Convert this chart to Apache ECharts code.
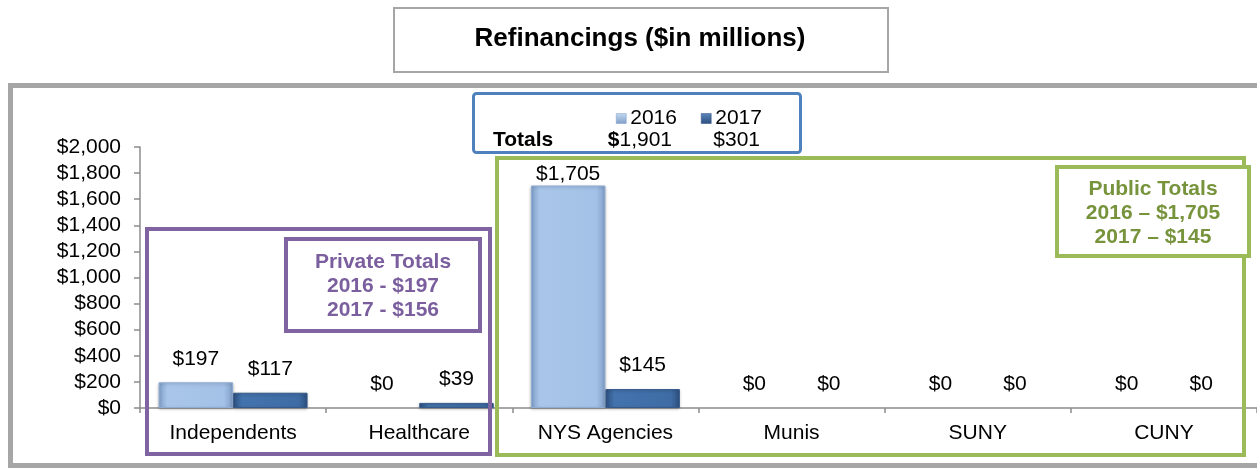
<!DOCTYPE html>
<html>
<head>
<meta charset="utf-8">
<script src="https://cdn.jsdelivr.net/npm/echarts@6/dist/echarts.min.js"></script>
<style>
html,body{margin:0;padding:0;background:#fff;}
#c{width:1257px;height:468px;}
</style>
</head>
<body>
<div id="c"></div>
<script>
const titleText = 'Refinancings ($in millions)';
const categories = ['Independents', 'Healthcare', 'NYS Agencies', 'Munis', 'SUNY', 'CUNY'];
const seriesNames = ['2016', '2017'];
const values2016 = [197, 0, 1705, 0, 0, 0];
const values2017 = [117, 39, 145, 0, 0, 0];
const totalsLabel = 'Totals';
const totals = ['1,901', '$301'];
const privateLines = ['Private Totals', '2016 - $197', '2017 - $156'];
const publicLines = ['Public Totals', '2016 \u2013 $1,705', '2017 \u2013 $145'];
const yMin = 0, yMax = 2000, yInterval = 200;

const FONT = '"Liberation Sans", Arial, sans-serif';
const money = v => '$' + Number(v).toLocaleString('en-US');

const grad2016 = new echarts.graphic.LinearGradient(0, 0, 1, 0, [
  {offset: 0, color: '#7f9fc8'},
  {offset: 0.12, color: '#a9c6ea'},
  {offset: 0.88, color: '#a3c0e6'},
  {offset: 1, color: '#7f9fc8'}
]);
const grad2017 = new echarts.graphic.LinearGradient(0, 0, 1, 0, [
  {offset: 0, color: '#2c4f7e'},
  {offset: 0.12, color: '#4373ad'},
  {offset: 0.88, color: '#3f6ca5'},
  {offset: 1, color: '#2c4f7e'}
]);
const legendIcon2016 = new echarts.graphic.LinearGradient(0, 0, 0, 1, [
  {offset: 0, color: '#c5d9f1'}, {offset: 1, color: '#7f9fc8'}
]);
const legendIcon2017 = new echarts.graphic.LinearGradient(0, 0, 0, 1, [
  {offset: 0, color: '#5b86bd'}, {offset: 1, color: '#2c4f7e'}
]);

function mk(vals) {
  return vals.map(v => {
    const item = {value: v, label: {distance: v > 1000 ? 1 : 13}};
    if (v === 0) item.itemStyle = {color: 'transparent', borderWidth: 0, shadowBlur: 0, shadowOffsetY: 0};
    return item;
  });
}

const chart = echarts.init(document.getElementById('c'), null, {renderer: 'canvas'});

function textLines(lines, cx, ys, color) {
  return lines.map((t, i) => ({
    type: 'text', z: 120, x: cx, y: ys[i],
    style: {text: t, fill: color, font: 'bold 21px ' + FONT, textAlign: 'center', textVerticalAlign: 'middle'}
  }));
}

const option = {
  animation: false,
  backgroundColor: '#ffffff',
  textStyle: {fontFamily: FONT},
  legend: {
    left: 611, top: 103,
    itemWidth: 10, itemHeight: 10, itemGap: 24,
    icon: 'rect',
    textStyle: {fontSize: 21, color: '#000', fontFamily: FONT, padding: [0, 0, 0, -1]},
    data: [
      {name: seriesNames[0], itemStyle: {color: legendIcon2016, borderColor: '#7f9fc8', borderWidth: 0.5}},
      {name: seriesNames[1], itemStyle: {color: legendIcon2017, borderColor: '#2c4f7e', borderWidth: 0.5}}
    ]
  },
  grid: {left: 140, right: 0, top: 147, bottom: 60, containLabel: false},
  xAxis: {
    type: 'category',
    data: categories,
    axisLine: {lineStyle: {color: '#8c8c8c', width: 1.5}},
    axisTick: {show: true, length: 5, lineStyle: {color: '#8c8c8c', width: 1.5}},
    axisLabel: {fontSize: 21, color: '#000', margin: 15, fontFamily: FONT}
  },
  yAxis: {
    type: 'value',
    min: yMin, max: yMax, interval: yInterval,
    axisLine: {show: true, lineStyle: {color: '#8c8c8c', width: 1.5}},
    axisTick: {show: true, length: 6, lineStyle: {color: '#8c8c8c', width: 1.5}},
    splitLine: {show: false},
    axisLabel: {fontSize: 21, color: '#000', margin: 19, fontFamily: FONT, formatter: v => money(v)}
  },
  series: [
    {
      name: seriesNames[0], type: 'bar', data: mk(values2016),
      barGap: '0%', barCategoryGap: '20%',
      itemStyle: {color: grad2016, borderColor: '#8eacd3', borderWidth: 1,
        shadowColor: 'rgba(0,0,0,0.25)', shadowBlur: 3, shadowOffsetY: 1},
      label: {show: true, position: 'top', fontSize: 21, color: '#000', fontFamily: FONT,
        formatter: p => money(p.value)}
    },
    {
      name: seriesNames[1], type: 'bar', data: mk(values2017),
      barGap: '0%', barCategoryGap: '20%',
      itemStyle: {color: grad2017, borderColor: '#35598a', borderWidth: 1,
        shadowColor: 'rgba(0,0,0,0.25)', shadowBlur: 3, shadowOffsetY: 1},
      label: {show: true, position: 'top', fontSize: 21, color: '#000', fontFamily: FONT,
        formatter: p => money(p.value)}
    }
  ],
  graphic: {
    elements: [
      {type: 'rect', z: 100, shape: {x: 394, y: 8, width: 494, height: 64},
        style: {fill: '#fff', stroke: '#a6a6a6', lineWidth: 2}},
      {type: 'text', z: 101, x: 640, y: 39,
        style: {text: titleText, font: 'bold 26px ' + FONT, fill: '#000', textAlign: 'center', textVerticalAlign: 'middle'}},
      {type: 'rect', z: 90, shape: {x: 10.5, y: 85.5, width: 1262, height: 380},
        style: {fill: 'none', stroke: '#a6a6a6', lineWidth: 5}},
      {type: 'rect', z: 110, shape: {x: 473.5, y: 93.5, width: 327, height: 59, r: 3},
        style: {fill: 'none', stroke: '#4f81bd', lineWidth: 3}},
      {type: 'text', z: 111, x: 493, y: 140,
        style: {text: totalsLabel, font: 'bold 21px ' + FONT, fill: '#000', textVerticalAlign: 'middle'}},
      {type: 'text', z: 111, x: 672, y: 140,
        style: {text: '{b|$}{n|' + totals[0] + '}', textAlign: 'right', textVerticalAlign: 'middle',
          rich: {b: {font: 'bold 21px ' + FONT, fill: '#000'}, n: {font: '21px ' + FONT, fill: '#000'}}}},
      {type: 'text', z: 111, x: 760, y: 140,
        style: {text: totals[1], font: '21px ' + FONT, fill: '#000', textAlign: 'right', textVerticalAlign: 'middle'}},
      {type: 'rect', z: 115, shape: {x: 147, y: 229, width: 343, height: 225},
        style: {fill: 'none', stroke: '#8064a2', lineWidth: 4}},
      {type: 'rect', z: 115, shape: {x: 286, y: 239, width: 194, height: 92},
        style: {fill: '#fff', stroke: '#8064a2', lineWidth: 4}},
      ...textLines(privateLines, 383, [262, 286, 310], '#7a5e9e'),
      {type: 'rect', z: 115, shape: {x: 497, y: 158, width: 747, height: 297},
        style: {fill: 'none', stroke: '#9bbb59', lineWidth: 4}},
      {type: 'rect', z: 115, shape: {x: 1057, y: 167, width: 192, height: 89},
        style: {fill: '#fff', stroke: '#9bbb59', lineWidth: 4}},
      ...textLines(publicLines, 1153, [189, 213, 237], '#77933c')
    ]
  }
};
chart.setOption(option);
</script>
</body>
</html>
